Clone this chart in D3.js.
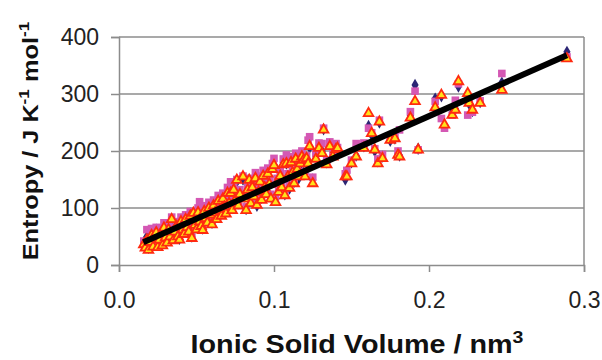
<!DOCTYPE html>
<html>
<head>
<meta charset="utf-8">
<script src="https://cdn.jsdelivr.net/npm/d3@7"></script>
<style>
  body { margin: 0; background: #fff; }
  svg text { font-family: "Liberation Sans", Arial, sans-serif; }
</style>
</head>
<body>
<div id="chart"></div>
<script>
// ionic solid volume (nm^3) of each salt, one entry per compound
var volumes = [
  0.016,0.017,0.018,0.019,0.020,0.021,0.022,0.023,0.024,0.025,
  0.026,0.027,0.028,0.029,0.030,0.031,0.032,0.033,0.034,0.035,
  0.036,0.037,0.038,0.039,0.040,0.041,0.042,0.043,0.044,0.045,
  0.046,0.047,0.048,0.049,0.050,0.051,0.052,0.053,0.054,0.055,
  0.056,0.057,0.058,0.059,0.060,0.061,0.062,0.063,0.064,0.065,
  0.066,0.067,0.068,0.069,0.070,0.071,0.072,0.073,0.074,0.075,
  0.076,0.077,0.078,0.080,0.081,0.082,0.083,0.084,0.085,0.086,
  0.087,0.088,0.089,0.090,0.091,0.092,0.093,0.094,0.095,0.096,
  0.097,0.098,0.099,0.100,0.101,0.102,0.103,0.104,0.105,0.106,
  0.107,0.108,0.109,0.110,0.111,0.112,0.113,0.114,0.115,0.116,
  0.117,0.118,0.119,0.120,0.121,0.122,0.123,0.125,0.127,0.129,
  0.131,0.132,0.134,0.136,0.138,0.140,0.141,0.146,0.147,0.150,
  0.153,0.158,0.161,0.163,0.165,0.167,0.168,0.170,0.175,0.178,
  0.180,0.181,0.188,0.191,0.193,0.204,0.208,0.210,0.215,0.217,
  0.219,0.225,0.226,0.228,0.233,0.247,0.289
];
// entropy estimates (J K^-1 mol^-1), three methods
var entropyA = [ // navy diamonds
  40,35,50,30,45,58,38,52,62,36,
  48,60,40,70,52,44,66,56,78,48,
  62,72,55,46,80,66,58,84,70,62,
  90,50,86,74,66,96,80,72,64,98,
  86,78,104,92,74,108,96,84,116,100,
  90,120,106,94,130,112,124,100,136,118,
  146,108,128,150,120,98,136,148,112,140,
  124,156,104,132,150,118,160,140,128,164,
  146,120,172,176,116,148,132,160,140,180,
  124,178,156,134,184,166,146,190,172,152,
  176,194,180,160,186,176,206,150,190,210,
  200,238,180,212,194,208,200,150,163,180,
  192,208,244,228,200,182,250,190,218,222,
  196,192,262,316,204,292,296,244,268,274,
  313,290,282,270,286,320,374
];
var entropyB = [ // pink squares
  42,38,62,34,48,64,40,55,66,38,
  52,64,42,74,56,46,70,60,84,51,
  66,76,58,48,84,70,62,88,74,66,
  94,54,92,78,70,100,111,76,66,104,
  90,82,110,96,78,114,100,88,122,104,
  94,126,110,98,136,116,146,104,142,122,
  150,112,132,156,124,102,140,152,116,146,
  128,162,108,136,156,122,166,144,132,170,
  150,124,178,187,120,152,136,166,144,186,
  128,193,160,140,190,170,150,196,176,158,
  182,200,184,164,192,219,225,154,196,214,
  213,240,184,216,198,213,206,160,166,184,
  213,214,240,232,204,186,254,194,222,226,
  200,237,269,305,202,287,257,240,263,289,
  318,263,286,268,288,336,365
];
var entropyC = [ // yellow triangles
  36,30,44,26,40,52,32,47,57,31,
  44,55,34,65,48,39,62,50,80,43,
  58,68,50,44,76,62,54,80,66,58,
  86,47,91,70,62,92,76,68,61,94,
  82,74,100,88,71,104,92,80,112,96,
  86,116,102,90,126,108,126,96,132,114,
  149,104,124,155,116,96,132,149,108,136,
  120,152,105,128,146,114,156,136,124,160,
  142,116,168,175,110,144,128,156,136,176,
  122,178,155,135,180,162,143,186,168,155,
  178,190,184,155,187,178,208,143,186,205,
  196,237,176,208,190,203,205,155,155,178,
  190,205,266,231,202,178,251,187,219,222,
  193,190,258,287,202,276,298,246,263,272,
  322,301,284,272,284,307,362
];
// fitted trend line end points
var trendX = [0.0157, 0.289];
var trendY = [40, 368];
var xTicks = [0, 0.1, 0.2, 0.3];
var yTicks = [0, 100, 200, 300, 400];

var W = 602, H = 360;
var margin = {top: 37, right: 18, bottom: 95, left: 119};
var width = W - margin.left - margin.right,
    height = H - margin.top - margin.bottom;

var x = d3.scaleLinear().domain([0, 0.3]).range([0, 465]);
var y = d3.scaleLinear().domain([0, 400]).range([height, 0]);

var svg = d3.select("#chart").append("svg")
  .attr("width", W).attr("height", H);
var g = svg.append("g")
  .attr("transform", "translate(" + margin.left + "," + margin.top + ")");

// horizontal gridlines
g.selectAll(".grid").data(yTicks.slice(1)).enter().append("line")
  .attr("x1", 0).attr("x2", x(0.3))
  .attr("y1", function(d){ return y(d); })
  .attr("y2", function(d){ return y(d); })
  .attr("stroke", "#8c8c8c").attr("stroke-width", 1.5);

// right border of the plot area
g.append("line")
  .attr("x1", x(0.3)).attr("x2", x(0.3))
  .attr("y1", 0).attr("y2", height)
  .attr("stroke", "#8c8c8c").attr("stroke-width", 1.5);

// y axis
var yAxis = g.append("g")
  .call(d3.axisLeft(y).tickValues(yTicks).tickSize(8).tickPadding(12).tickFormat(d3.format("d")));
// x axis
var xAxis = g.append("g")
  .attr("transform", "translate(0," + height + ")")
  .call(d3.axisBottom(x).tickValues(xTicks).tickSize(7).tickPadding(20).tickFormat(d3.format(".1f")));

[yAxis, xAxis].forEach(function(a){
  a.select(".domain").attr("stroke", "#8c8c8c").attr("stroke-width", 1.5);
  a.selectAll(".tick line").attr("stroke", "#8c8c8c").attr("stroke-width", 1.5);
  a.selectAll(".tick text").attr("fill", "#222").style("font-size", "23px")
    .style("font-family", "'Liberation Sans', Arial, sans-serif");
});

var pts = volumes.map(function(v, i){
  return {v: v, a: entropyA[i], b: entropyB[i], c: entropyC[i]};
});

// diamonds
g.selectAll(".dia").data(pts).enter().append("path")
  .attr("d", d3.symbol().type(d3.symbolDiamond).size(44))
  .attr("transform", function(d){ return "translate(" + x(d.v) + "," + y(d.a) + ")"; })
  .attr("fill", "#2b2574");

// squares
g.selectAll(".sq").data(pts).enter().append("path")
  .attr("d", d3.symbol().type(d3.symbolSquare).size(58))
  .attr("transform", function(d){ return "translate(" + x(d.v) + "," + y(d.b) + ")"; })
  .attr("fill", "#d458b4");

// triangles
g.selectAll(".tri").data(pts).enter().append("path")
  .attr("d", d3.symbol().type(d3.symbolTriangle).size(40))
  .attr("transform", function(d){ return "translate(" + x(d.v) + "," + y(d.c) + ")"; })
  .attr("fill", "#ffe21a").attr("stroke", "#ff2a10").attr("stroke-width", 1.8);

// trend line
var trend = trendX.map(function(v, i){ return [v, trendY[i]]; });
g.append("path").datum(trend)
  .attr("d", d3.line().x(function(d){ return x(d[0]); }).y(function(d){ return y(d[1]); }))
  .attr("stroke", "#000").attr("stroke-width", 6).attr("fill", "none");

// axis titles (stretched a little along the text, like the original)
var xt = svg.append("text")
  .attr("transform", "translate(357,353) scale(1.15,1)")
  .attr("text-anchor", "middle")
  .style("font-size", "25px").style("font-weight", "bold").attr("fill", "#111");
xt.append("tspan").text("Ionic Solid Volume / nm");
xt.append("tspan").attr("dy", -10).style("font-size", "17px").text("3");

var yt = svg.append("text")
  .attr("transform", "translate(38,141) rotate(-90) scale(1.15,1)")
  .attr("text-anchor", "middle")
  .style("font-size", "22px").style("font-weight", "bold").attr("fill", "#111");
yt.append("tspan").text("Entropy / J K");
yt.append("tspan").attr("dy", -9).style("font-size", "15px").text("-1");
yt.append("tspan").attr("dy", 9).text(" mol");
yt.append("tspan").attr("dy", -9).style("font-size", "15px").text("-1");
</script>
</body>
</html>
